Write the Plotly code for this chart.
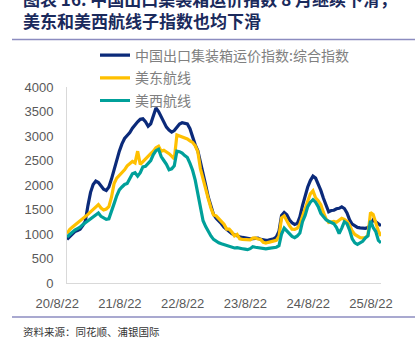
import pandas as pd
import plotly.graph_objects as go

# Semi-monthly observations, Aug 2020 - Aug 2025
dates = pd.date_range("2020-08-21", "2025-08-22", periods=121)

ccfi_composite = [
    890, 940, 1000, 1050, 1070, 1095, 1170, 1260, 1580, 1850,
    2010, 2080, 2050, 1970, 1915, 1890, 1960, 2120, 2330, 2520,
    2690, 2840, 2950, 3010, 3070, 3160, 3230, 3290, 3340, 3350,
    3290, 3200, 3250, 3420, 3570, 3500, 3400, 3270, 3180, 3120,
    3080, 3110, 3170, 3245, 3270, 3265, 3245, 3150, 2960, 2820,
    2700, 2440, 2240, 2000, 1750, 1560, 1400, 1320, 1270, 1210,
    1140, 1090, 1040, 1010, 985, 960, 945, 930, 915, 905,
    900, 905, 915, 915, 890, 875, 870, 875, 885, 900,
    940, 1050, 1380, 1440, 1395, 1290, 1230, 1195, 1215, 1350,
    1580, 1775, 1960, 2090, 2180, 2140, 2030, 1890, 1730, 1570,
    1455, 1480, 1485, 1515, 1525, 1555, 1520, 1430, 1290, 1200,
    1160, 1135, 1125, 1120, 1115, 1130, 1190, 1290, 1250, 1200,
    1170,
]

us_east = [
    1010, 1090, 1140, 1180, 1220, 1270, 1320, 1360, 1400, 1450,
    1500, 1560, 1600, 1530, 1490, 1510, 1560, 1750, 2030, 2140,
    2200, 2240, 2310, 2390, 2440, 2480, 2450, 2690, 2420, 2480,
    2530, 2580, 2640, 2690, 2760, 2790, 2690, 2710, 2680, 2640,
    2590, 2530, 3020, 3000, 2990, 2960, 2940, 2900, 2870, 2800,
    2680, 2330, 2110, 1910, 1720, 1530, 1390, 1370, 1320, 1250,
    1200, 1100, 1100, 1040, 960, 990, 900, 890, 885, 875,
    880, 915, 920, 900, 890, 830, 815, 830, 845, 855,
    870, 950, 1330, 1370, 1260, 1170, 1100, 1095, 1120, 1200,
    1360, 1520, 1660, 1820, 1880, 1740, 1680, 1600, 1440, 1310,
    1235, 1250, 1255, 1240, 1280, 1320, 1300, 1260, 1180, 1060,
    990, 950, 925, 920, 925, 970, 1440, 1400, 1200, 1060,
    960,
]

us_west = [
    940, 990, 1040, 1080, 1110, 1140, 1190, 1230, 1260, 1300,
    1340, 1380, 1430, 1360, 1320, 1300, 1310, 1450, 1620, 1780,
    1900, 1960, 2010, 2030, 2120, 2230, 2250, 2180, 2250, 2370,
    2380, 2450, 2500, 2620, 2700, 2730, 2580, 2500, 2420, 2310,
    2330, 2390, 2690, 2680, 2650, 2600, 2560, 2440, 2300, 2100,
    1800, 1480, 1270, 1150, 1050, 960, 890, 850, 820, 800,
    780, 760, 740, 725, 715, 720, 718, 700, 690, 680,
    700, 740, 730, 720, 718, 705, 698, 705, 712, 718,
    730, 760, 1000, 1120, 1060, 990, 950, 925, 960, 1020,
    1250, 1380, 1560, 1650, 1700, 1650, 1560, 1420, 1360, 1290,
    1260, 1230, 1210, 1130, 1010, 1120, 1250, 1210, 1080, 900,
    820, 790, 820, 850, 920, 960, 1270, 1130, 1050, 870,
    820,
]

series_names = ["中国出口集装箱运价指数:综合指数", "美东航线", "美西航线"]
series_colors = ["#0B2A7A", "#FFC000", "#00A09A"]

tick_dates = ["2020-08-22", "2021-08-22", "2022-08-22",
              "2023-08-22", "2024-08-22", "2025-08-22"]
tick_text = ["20/8/22", "21/8/22", "22/8/22", "23/8/22", "24/8/22", "25/8/22"]

title_line1 = "图表 16: 中国出口集装箱运价指数 8 月继续下滑，"
title_line2 = "美东和美西航线子指数也均下滑"
source_text = "资料来源：同花顺、浦银国际"

W, H = 415, 344
L, R, T, B = 67, 34, 87, 61
PW, PH = W - L - R, H - T - B


def xp(px):
    return (px - L) / PW


def yp(py):
    return (H - B - py) / PH


fig = go.Figure()
for name, vals, col in zip(series_names, [ccfi_composite, us_east, us_west], series_colors):
    fig.add_trace(go.Scatter(
        x=dates, y=vals, name=name, mode="lines", legendgroup=name,
        line=dict(color=col, width=3.2),
    ))

axis_font = dict(family="Liberation Sans, Arial, sans-serif", size=13, color="#595959")

fig.update_layout(
    width=W, height=H,
    margin=dict(l=L, r=R, t=T, b=B),
    paper_bgcolor="white", plot_bgcolor="white",
    showlegend=True,
    legend=dict(
        x=xp(95), y=yp(39.5), xanchor="left", yanchor="top",
        bgcolor="rgba(0,0,0,0)",
        font=dict(family="Noto Sans CJK SC", size=14, color="#808080"),
        traceorder="grouped", tracegroupgap=1.5,
    ),
    xaxis=dict(
        type="date",
        range=[dates[0], dates[-1]],
        tickvals=tick_dates, ticktext=tick_text,
        ticklabelshift=-10, ticklabelstandoff=8,
        showline=True, linecolor="#D9D9D9", linewidth=1,
        showgrid=False, zeroline=False, ticks="",
        tickfont=axis_font,
    ),
    yaxis=dict(
        range=[0, 4000], dtick=500,
        showline=True, linecolor="#D9D9D9", linewidth=1,
        showgrid=False, zeroline=False, ticks="",
        ticklabelstandoff=10,
        tickfont=axis_font,
    ),
)

title_font = dict(family="Noto Sans CJK SC", size=17, color="#1A2A5C", weight="bold")
fig.add_annotation(text=title_line1, xref="paper", yref="paper",
                   x=xp(21), y=yp(-1.5), xanchor="left", yanchor="middle",
                   showarrow=False, font=title_font)
fig.add_annotation(text=title_line2, xref="paper", yref="paper",
                   x=xp(21), y=yp(21), xanchor="left", yanchor="middle",
                   showarrow=False, font=title_font)
fig.add_annotation(text=source_text, xref="paper", yref="paper",
                   x=xp(21), y=yp(331), xanchor="left", yanchor="middle",
                   showarrow=False,
                   font=dict(family="Noto Sans CJK SC", size=10.5, color="#333333"))

rule_color = "#8C8CC0"
for py in (39.5, 317):
    fig.add_shape(type="line", xref="paper", yref="paper",
                  x0=xp(12), x1=xp(415), y0=yp(py), y1=yp(py),
                  line=dict(color=rule_color, width=1.5))

fig.write_html("out.html")
